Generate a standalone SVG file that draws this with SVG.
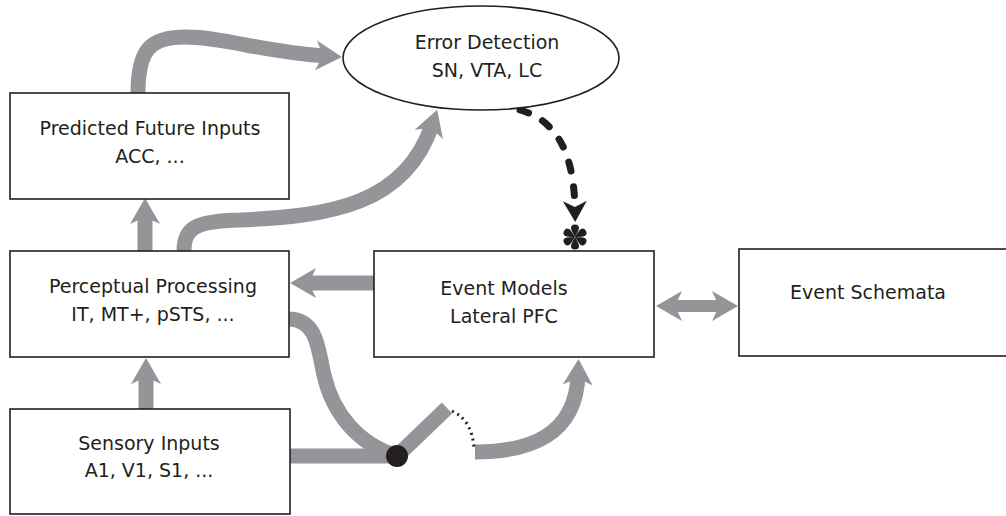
<svg xmlns="http://www.w3.org/2000/svg" width="1006" height="516" viewBox="0 0 1006 516">
<style>
.box{fill:#fff;stroke:#231f20;stroke-width:1.6}
.lbl{font-family:"DejaVu Sans","Liberation Sans",sans-serif;font-size:19px;fill:#231f20;text-anchor:middle}
.gray{fill:none;stroke:#939598;stroke-width:15;stroke-linecap:butt}
</style>
<defs>
<marker id="ah" markerUnits="userSpaceOnUse" viewBox="-28 -16 30 32" markerWidth="30" markerHeight="32" refX="-16" refY="0" orient="auto-start-reverse">
<path d="M0,0 L-26,-15 L-19,0 L-26,15 Z" fill="#939598"/>
</marker>
<marker id="bh" markerUnits="userSpaceOnUse" viewBox="-22 -13 24 26" markerWidth="24" markerHeight="26" refX="-12" refY="0" orient="auto">
<path d="M0,0 L-21,-12 L-15,0 L-21,12 Z" fill="#231f20"/>
</marker>
<path id="petal" d="M0,0 C-2,-4 -4,-7 -4,-9 A4,3.5 0 0 1 4,-9 C4,-7 2,-4 0,0 Z"/>
</defs>
<rect width="1006" height="516" fill="#fff"/>
<g id="connectors">
<path class="gray" d="M146,409 L146,374" marker-end="url(#ah)"/>
<path class="gray" d="M145,251 L145,214" marker-end="url(#ah)"/>
<path class="gray" d="M374,283 L306,283" marker-end="url(#ah)"/>
<path class="gray" style="stroke-width:12" d="M672,306 L722,306" marker-start="url(#ah)" marker-end="url(#ah)"/>
<path class="gray" d="M138,93 C138,50 150,37 185,37 C225,37 262,52 326,56" marker-end="url(#ah)"/>
<path class="gray" d="M184,251 C184,228 195,221 240,220 C330,216 405,205 432,125" marker-end="url(#ah)"/>
<path class="gray" d="M289,319 C318,320 318,350 324,375 C333,415 360,445 397,456"/>
<path class="gray" d="M289,456 L397,456"/>
<path class="gray" d="M397,456 L447,408"/>
<path class="gray" d="M475,452 C530,452 576,435 578,375" marker-end="url(#ah)"/>
<path d="M452,411 Q472,420 474,448" fill="none" stroke="#231f20" stroke-width="3" stroke-dasharray="2 4"/>
<circle cx="397" cy="456" r="11" fill="#231f20"/>
<path d="M520,110 C555,120 574,150 575,210" fill="none" stroke="#231f20" stroke-width="7" stroke-linecap="round" stroke-dasharray="9 16" marker-end="url(#bh)"/>
<g transform="translate(575,237)" fill="#231f20">
<use href="#petal"/>
<use href="#petal" transform="rotate(60)"/>
<use href="#petal" transform="rotate(120)"/>
<use href="#petal" transform="rotate(180)"/>
<use href="#petal" transform="rotate(240)"/>
<use href="#petal" transform="rotate(300)"/>
</g>
</g>
<g id="error-detection">
<ellipse class="box" cx="481" cy="58" rx="138" ry="52"/>
<text class="lbl" x="487" y="49">Error Detection</text>
<text class="lbl" x="487" y="77">SN, VTA, LC</text>
</g>
<g id="predicted-future-inputs">
<rect class="box" x="10" y="93" width="279" height="106"/>
<text class="lbl" x="150" y="135">Predicted Future Inputs</text>
<text class="lbl" x="150" y="163">ACC, ...</text>
</g>
<g id="perceptual-processing">
<rect class="box" x="10" y="251" width="279" height="106"/>
<text class="lbl" x="153" y="293">Perceptual Processing</text>
<text class="lbl" x="153" y="321">IT, MT+, pSTS, ...</text>
</g>
<g id="sensory-inputs">
<rect class="box" x="10" y="409" width="280" height="105"/>
<text class="lbl" x="149" y="450">Sensory Inputs</text>
<text class="lbl" x="149" y="477">A1, V1, S1, ...</text>
</g>
<g id="event-models">
<rect class="box" x="374" y="251" width="280" height="106"/>
<text class="lbl" x="504" y="295">Event Models</text>
<text class="lbl" x="504" y="323">Lateral PFC</text>
</g>
<g id="event-schemata">
<rect class="box" x="739" y="249" width="275" height="107"/>
<text class="lbl" x="868" y="299">Event Schemata</text>
</g>
</svg>
